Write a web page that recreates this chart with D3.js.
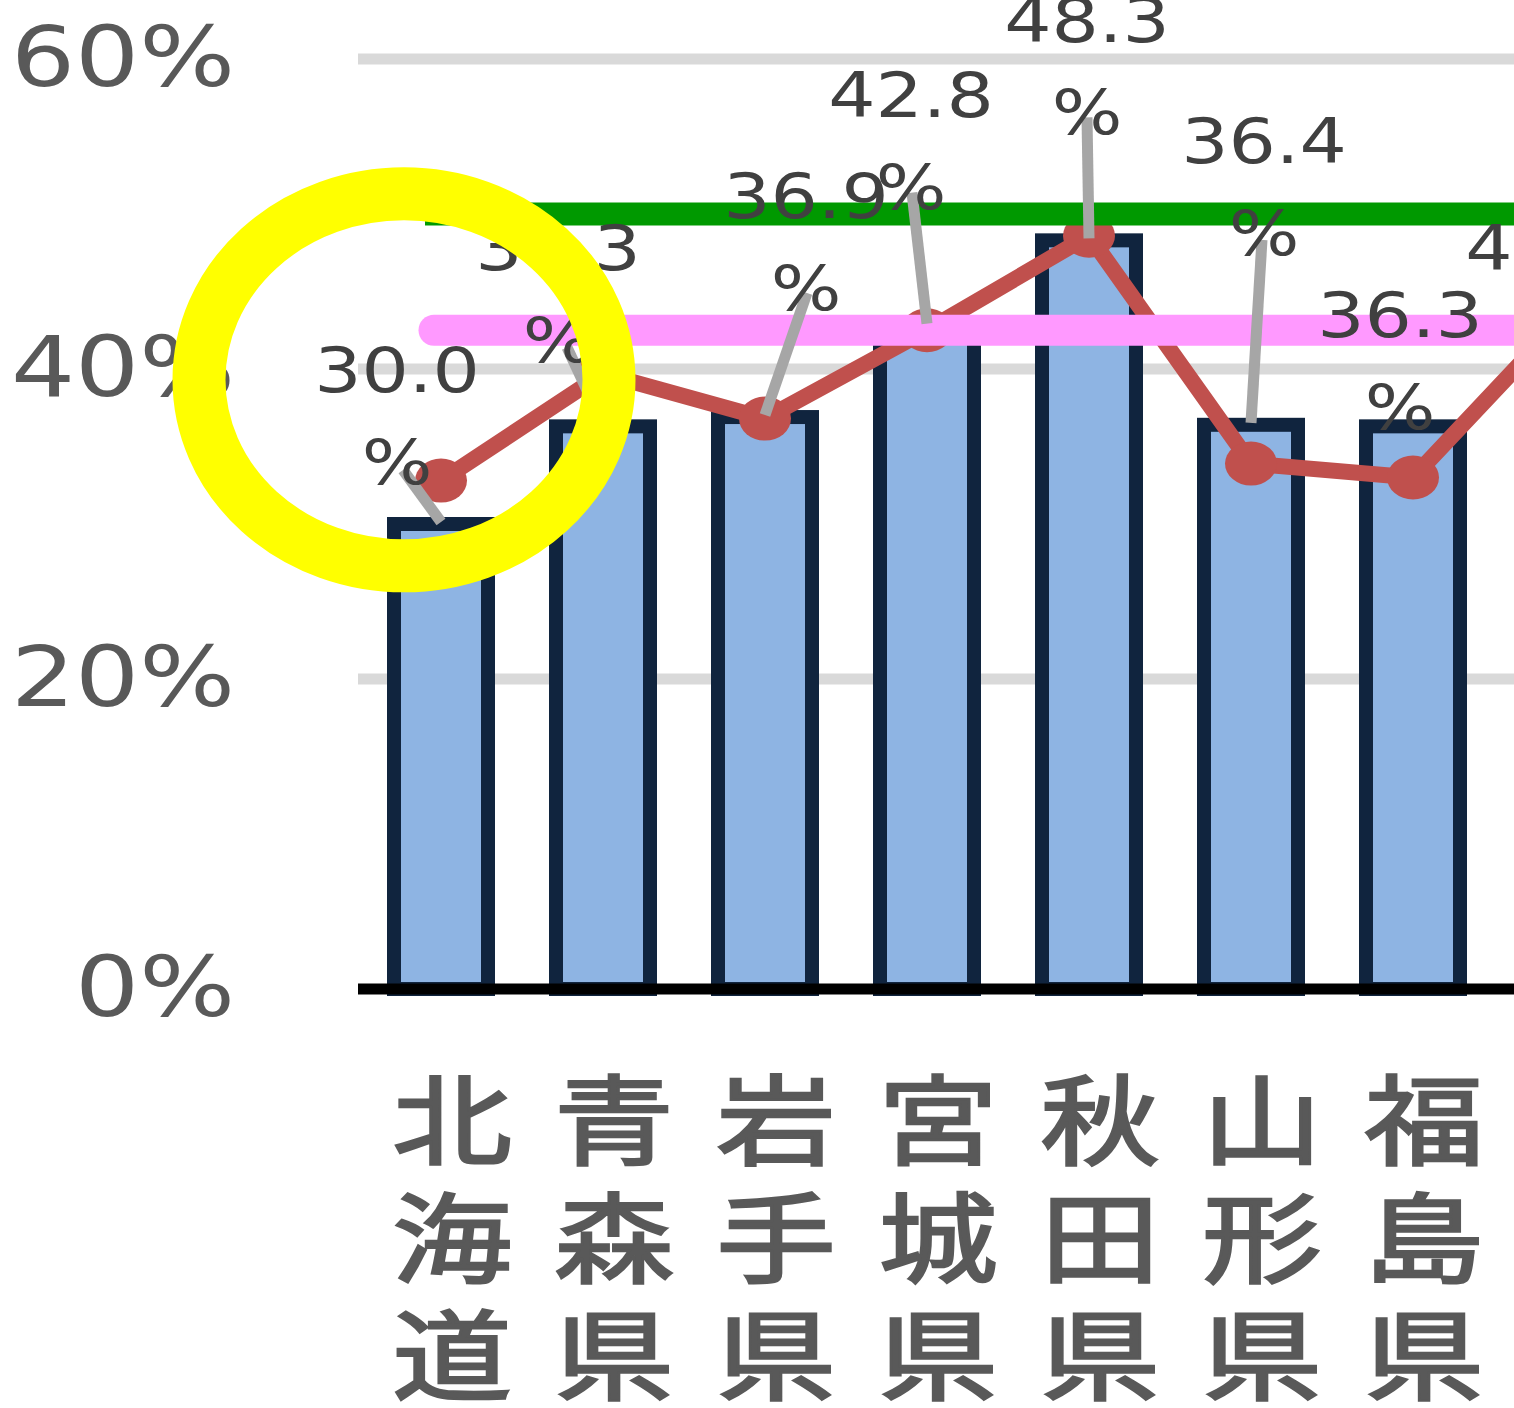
<!DOCTYPE html>
<html>
<head>
<meta charset="utf-8">
<script src="https://cdn.jsdelivr.net/npm/d3@7"></script>
<style>
  body { margin: 0; background: #fff; }
  svg { display: block; }
</style>
</head>
<body>
<div class="chartArea"></div>
<script>
const categories = ["北海道", "青森県", "岩手県", "宮城県", "秋田県", "山形県", "福島県", "茨城県"];
const barValues = [30.0, 36.3, 36.9, 42.8, 48.3, 36.4, 36.3, 41.5];
const lineValues = [32.8, 39.7, 36.8, 42.5, 48.6, 33.9, 33.0, 44.1];
const greenLevel = 50.0;
const pinkLevel = 42.5;
const yTicks = [0, 20, 40, 60];

// where the data labels sit, relative to bar centre / bar top (layout only)
const labelPlace = [
  { dx: -44, dy: -132, lead: [-38, -54] },
  { dx: -45, dy: -156, lead: [-36, -79] },
  { dx: 41, dy: -199, lead: [42, -124] },
  { dx: -16, dy: -209, lead: [-15, -133] },
  { dx: -2, dy: -198, lead: [-2, -123] },
  { dx: 13, dy: -262, lead: [11, -185] },
  { dx: -13, dy: -89, lead: null },
  { dx: -27, dy: -76, lead: null }
];

const width = 1514;
const height = 1408;
const left = 358;
const textStretch = 1.2;

const svg = d3.select(".chartArea")
  .append("svg")
  .attr("width", width)
  .attr("height", height);

const x = d3.scaleBand()
  .domain(categories)
  .range([360, 360 + 162 * categories.length])
  .paddingInner(1 / 3)
  .paddingOuter(1 / 6);

const y = d3.scaleLinear()
  .domain([0, 60])
  .range([989, 59]);

const cx = d => x(d) + x.bandwidth() / 2;

// gridlines
svg.selectAll(".grid")
  .data(yTicks.filter(t => t > 0))
  .enter()
  .append("line")
  .attr("x1", left)
  .attr("x2", width)
  .attr("y1", d => y(d))
  .attr("y2", d => y(d))
  .attr("stroke", "#d9d9d9")
  .attr("stroke-width", 11);

// y axis labels
const yAxis = d3.axisLeft(y).tickValues(yTicks).tickSize(0).tickPadding(0)
  .tickFormat(d => d + "%");
const yg = svg.append("g")
  .attr("transform", "translate(235,0)")
  .call(yAxis);
yg.select(".domain").remove();
yg.selectAll("text")
  .attr("x", 0)
  .attr("transform", `scale(${textStretch},1)`)
  .style("font-family", "DejaVu Sans")
  .style("font-size", "84px")
  .attr("fill", "#595959");

// bars
svg.selectAll(".bar")
  .data(categories)
  .enter()
  .append("rect")
  .attr("class", "bar")
  .attr("x", d => x(d) + 7)
  .attr("width", x.bandwidth() - 14)
  .attr("y", (d, i) => y(barValues[i]))
  .attr("height", (d, i) => y(0) - y(barValues[i]))
  .attr("fill", "#8eb4e3")
  .attr("stroke", "#10243e")
  .attr("stroke-width", 14);

// baseline
svg.append("line")
  .attr("x1", left).attr("x2", width)
  .attr("y1", y(0)).attr("y2", y(0))
  .attr("stroke", "#000")
  .attr("stroke-width", 11);

// red series
const line = d3.line()
  .x((d, i) => cx(categories[i]))
  .y(d => y(d));

svg.append("path")
  .datum(lineValues)
  .attr("d", line)
  .attr("fill", "none")
  .attr("stroke", "#c0504d")
  .attr("stroke-width", 16)
  .attr("stroke-linejoin", "round");

svg.selectAll(".dot")
  .data(lineValues)
  .enter()
  .append("ellipse")
  .attr("cx", (d, i) => cx(categories[i]))
  .attr("cy", d => y(d))
  .attr("rx", 26)
  .attr("ry", 22)
  .attr("fill", "#c0504d");

// reference lines
svg.append("line")
  .attr("x1", 425).attr("x2", width + 20)
  .attr("y1", y(greenLevel)).attr("y2", y(greenLevel))
  .attr("stroke", "#009900")
  .attr("stroke-width", 23);

svg.append("line")
  .attr("x1", 434).attr("x2", width + 40)
  .attr("y1", y(pinkLevel)).attr("y2", y(pinkLevel))
  .attr("stroke", "#ff99ff")
  .attr("stroke-width", 31)
  .attr("stroke-linecap", "round");

// leader lines
svg.selectAll(".leader")
  .data(categories.filter((d, i) => labelPlace[i].lead))
  .enter()
  .append("line")
  .attr("x1", d => cx(d) + labelPlace[categories.indexOf(d)].lead[0])
  .attr("y1", d => y(barValues[categories.indexOf(d)]) + labelPlace[categories.indexOf(d)].lead[1])
  .attr("x2", d => cx(d))
  .attr("y2", d => y(barValues[categories.indexOf(d)]) - 2)
  .attr("stroke", "#a6a6a6")
  .attr("stroke-width", 11);

// data labels, wrapped as in the original ("30.0" / "%")
const labels = svg.selectAll(".dlabel")
  .data(categories)
  .enter()
  .append("text")
  .attr("class", "dlabel")
  .attr("transform", (d, i) =>
    `translate(${cx(d) + labelPlace[i].dx},${y(barValues[i]) + labelPlace[i].dy}) scale(${textStretch},1)`)
  .attr("text-anchor", "middle")
  .style("font-family", "DejaVu Sans")
  .style("font-size", "62px")
  .attr("fill", "#404040");

labels.append("tspan")
  .attr("x", 0)
  .text((d, i) => d3.format(".1f")(barValues[i]));
labels.append("tspan")
  .attr("x", 0)
  .attr("dy", 92)
  .text("%");

// category labels, one character per row
const cat = svg.selectAll(".cat")
  .data(categories)
  .enter()
  .append("g")
  .attr("transform", d => `translate(${cx(d) + 11},0)`);

cat.selectAll("text")
  .data(d => d.split(""))
  .enter()
  .append("text")
  .attr("transform", (c, j) => `translate(0,${1114 + j * 117.5}) scale(1.22,1)`)
  .attr("text-anchor", "middle")
  .attr("dominant-baseline", "central")
  .style("font-family", "Noto Sans CJK JP")
  .style("font-size", "98px")
  .attr("fill", "#595959")
  .attr("stroke", "#595959")
  .attr("stroke-width", 2.5)
  .text(c => c);

// yellow highlight ring round the first prefecture
svg.append("ellipse")
  .attr("cx", cx(categories[0]) - 37)
  .attr("cy", y(39.3))
  .attr("rx", 205)
  .attr("ry", 186)
  .attr("fill", "none")
  .attr("stroke", "#ffff00")
  .attr("stroke-width", 53);
</script>
</body>
</html>
